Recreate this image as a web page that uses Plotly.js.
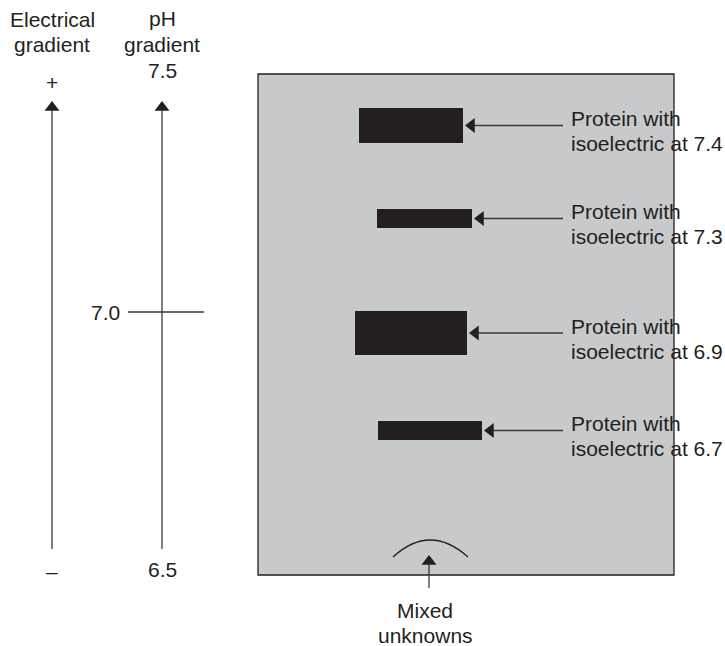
<!DOCTYPE html>
<html>
<head>
<meta charset="utf-8">
<script src="https://cdn.plot.ly/plotly-3.0.1.min.js"></script>
<style>html,body{margin:0;padding:0;background:#fff;}#chart{width:725px;height:646px;}</style>
</head>
<body>
<div id="chart"></div>
<script>
// ---- data ----
const pI = [7.4, 7.3, 6.9, 6.7];                 // isoelectric points of the proteins
const bandCenter = [125.5, 218.5, 333, 430.5];   // band migration position on gel
const bandStart = [359, 377, 355, 378];          // band left edge
const bandEnd = [463, 472, 467, 482];            // band right edge
const bandThick = [35, 19, 44, 19];              // band thickness
const pHLabels = ['7.5', '7.0', '6.5'];
const pHLabelPos = [70, 312, 569];
const poleLabels = ['+', '\u2013'];

// ---- styling ----
const INK = '#231f20';
const LINE = '#3a3a3a';
const FONT = {family: 'Liberation Sans, Arial, sans-serif', size: 21, color: INK};
const elecX = 52, phX = 162;
const arrowTop = 100, arrowBottom = 549;
const labelX = 569, arrowStartX = 563;
const headR = 6.5, headOff = headR * 2 / Math.sqrt(3);

const traces = [];

// gel bands (horizontal bars)
traces.push({
  type: 'bar', orientation: 'h',
  y: bandCenter,
  base: bandStart,
  x: bandStart.map((s, i) => bandEnd[i] - s),
  width: bandThick,
  marker: {color: INK, line: {width: 0}},
  hoverinfo: 'skip', showlegend: false
});

// band arrows (lines)
bandCenter.forEach((y, i) => {
  traces.push({
    type: 'scatter', mode: 'lines',
    x: [arrowStartX, bandEnd[i] + 6], y: [y, y],
    line: {color: LINE, width: 1.3},
    hoverinfo: 'skip', showlegend: false
  });
});
// band arrow heads
traces.push({
  type: 'scatter', mode: 'markers',
  x: bandEnd.map(e => e + 1 + headOff), y: bandCenter,
  marker: {symbol: 'triangle-left', size: headR * 2, color: INK, line: {width: 0}},
  hoverinfo: 'skip', showlegend: false
});

// gradient axes (vertical arrows)
[elecX, phX].forEach(x => {
  traces.push({
    type: 'scatter', mode: 'lines',
    x: [x, x], y: [arrowBottom, arrowTop + 6],
    line: {color: LINE, width: 1.3},
    hoverinfo: 'skip', showlegend: false
  });
});
// pH 7.0 crossing tick
traces.push({
  type: 'scatter', mode: 'lines',
  x: [128, 204], y: [pHLabelPos[1], pHLabelPos[1]],
  line: {color: LINE, width: 1.3},
  hoverinfo: 'skip', showlegend: false
});
// mixed unknowns arrow line
traces.push({
  type: 'scatter', mode: 'lines',
  x: [429, 429], y: [588, 560],
  line: {color: LINE, width: 1.3},
  hoverinfo: 'skip', showlegend: false
});
// up arrow heads
traces.push({
  type: 'scatter', mode: 'markers',
  x: [elecX, phX, 429], y: [arrowTop + headOff, arrowTop + headOff, 554 + headOff],
  marker: {symbol: 'triangle-up', size: headR * 2, color: INK, line: {width: 0}},
  hoverinfo: 'skip', showlegend: false
});

const annotations = [];
function txt(x, y, t, xa) {
  annotations.push({x: x, y: y, xref: 'x', yref: 'y', text: t, showarrow: false,
    xanchor: xa || 'center', yanchor: 'middle', font: FONT});
}
// band labels
pI.forEach((v, i) => {
  txt(labelX, bandCenter[i] - 7, 'Protein with', 'left');
  txt(labelX, bandCenter[i] + 18, 'isoelectric at ' + v.toFixed(1), 'left');
});
// gradient titles
txt(elecX, 19, 'Electrical');
txt(elecX, 44, 'gradient');
txt(phX, 18, 'pH');
txt(phX, 44, 'gradient');
// poles
txt(elecX, 82, poleLabels[0]);
txt(elecX, 571, poleLabels[1]);
// pH labels
txt(phX, pHLabelPos[0], pHLabels[0]);
txt(122, pHLabelPos[1], pHLabels[1], 'right');
txt(phX, pHLabelPos[2], pHLabels[2]);
// mixed unknowns
txt(425, 610, 'Mixed');
txt(425, 635, 'unknowns');

const shapes = [
  {type: 'rect', xref: 'x', yref: 'y', x0: 258, x1: 674, y0: 74, y1: 575,
   fillcolor: '#c8c9cb', line: {color: INK, width: 1.3}, layer: 'below'},
  {type: 'path', xref: 'x', yref: 'y', path: 'M 393 557 Q 430 523 468 557',
   line: {color: INK, width: 1.3}}
];

const layout = {
  width: 725, height: 646,
  margin: {l: 0, r: 0, t: 0, b: 0},
  paper_bgcolor: '#ffffff', plot_bgcolor: 'rgba(0,0,0,0)',
  xaxis: {range: [0, 725], visible: false, fixedrange: true},
  yaxis: {range: [646, 0], visible: false, fixedrange: true},
  showlegend: false, bargap: 0,
  shapes: shapes, annotations: annotations
};

Plotly.newPlot('chart', traces, layout, {displayModeBar: false, staticPlot: true});
</script>
</body>
</html>
